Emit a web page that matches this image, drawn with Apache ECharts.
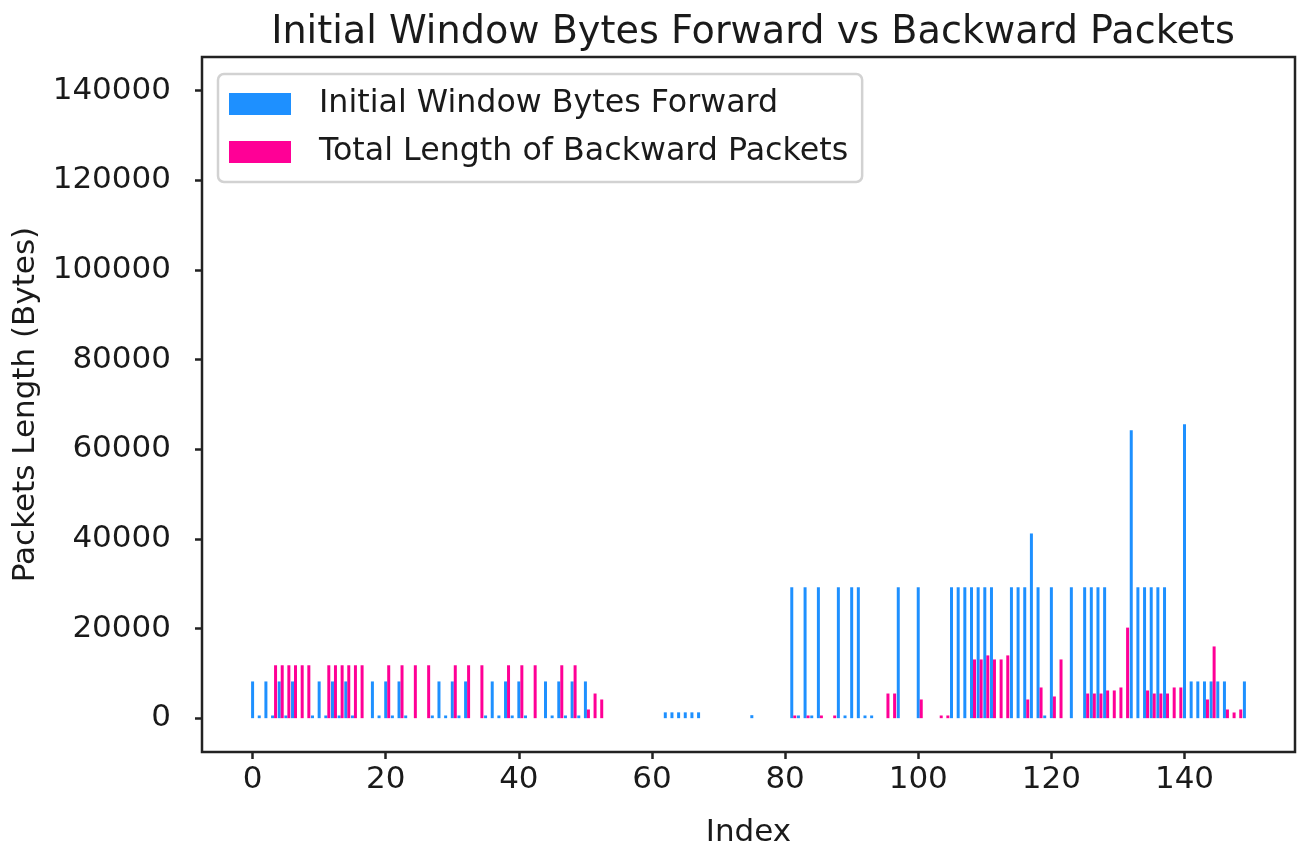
<!DOCTYPE html>
<html>
<head>
<meta charset="utf-8">
<script src="https://cdn.jsdelivr.net/npm/echarts@6/dist/echarts.min.js"></script>
<style>
  html, body { margin: 0; padding: 0; background: #fff; }
  #chart { width: 1299px; height: 850px; }
</style>
</head>
<body>
<div id="chart"></div>
<script>
// sample index 0..149
const indices = Array.from({ length: 150 }, (_, i) => i)

// Initial Window Bytes Forward
const initWinFwd = [
  8192, 600, 8192, 600, 8192, 600, 8192, 0, 0, 600,
  8192, 600, 8192, 600, 8192, 600, 0, 0, 8192, 600,
  8192, 600, 8192, 600, 0, 0, 0, 600, 8192, 600,
  8192, 600, 8192, 0, 0, 600, 8192, 600, 8192, 600,
  8192, 600, 0, 0, 8192, 600, 8192, 600, 8192, 600,
  8192, 0, 0, 0, 0, 0, 0, 0, 0, 0,
  0, 0, 1300, 1300, 1300, 1300, 1300, 1300, 0, 0,
  0, 0, 0, 0, 0, 670, 0, 0, 0, 0,
  0, 29200, 600, 29200, 600, 29200, 0, 0, 29200, 600,
  29200, 29200, 600, 600, 0, 0, 0, 29200, 0, 0,
  29200, 0, 0, 0, 0, 29200, 29200, 29200, 29200, 29200,
  29200, 29200, 0, 0, 29200, 29200, 29200, 41200, 29200, 600,
  29200, 0, 0, 29200, 0, 29200, 29200, 29200, 29200, 0,
  0, 0, 64240, 29200, 29200, 29200, 29200, 29200, 0, 0,
  65535, 8192, 8192, 8192, 8192, 8192, 8192, 0, 0, 8192
]

// Total Length of Backward Packets
const totLenBwd = [
  0, 0, 0, 11800, 11800, 11800, 11800, 11800, 11800, 0,
  0, 11800, 11800, 11800, 11800, 11800, 11800, 0, 0, 0,
  11800, 0, 11800, 0, 11800, 0, 11800, 0, 0, 0,
  11800, 0, 11800, 0, 11800, 0, 0, 0, 11800, 0,
  11800, 0, 11800, 0, 0, 0, 11800, 0, 11800, 0,
  1940, 5500, 4170, 0, 0, 0, 0, 0, 0, 0,
  0, 0, 0, 0, 0, 0, 0, 0, 0, 0,
  0, 0, 0, 0, 0, 0, 0, 0, 0, 0,
  0, 600, 0, 600, 0, 600, 0, 600, 0, 0,
  0, 0, 0, 0, 0, 5500, 5500, 0, 0, 0,
  4170, 0, 0, 600, 600, 0, 0, 0, 13100, 13100,
  14000, 13100, 13100, 14000, 0, 0, 4170, 0, 6850, 0,
  4840, 13100, 0, 0, 0, 5500, 5500, 5500, 6180, 6180,
  6850, 20200, 0, 0, 6180, 5500, 5500, 5500, 6850, 6850,
  0, 0, 0, 4170, 16000, 0, 1940, 1270, 1940, 0
]

const xTicks = [0, 20, 40, 60, 80, 100, 120, 140]
const yTicks = [0, 20000, 40000, 60000, 80000, 100000, 120000, 140000]

const barShift = 0.45   // second bar set sits next to the first one
const font = 'DejaVu Sans'
const ink = '#1a1a1a'

let myChart = echarts.init(document.getElementById('chart'))

let option = {
  animation: false,
  textStyle: { fontFamily: font },
  title: {
    text: 'Initial Window Bytes Forward vs Backward Packets',
    left: 748,
    top: 9,
    textAlign: 'center',
    textStyle: { fontFamily: font, fontSize: 38.2, fontWeight: 'normal', color: ink }
  },
  legend: {
    orient: 'vertical',
    left: 218,
    top: 74,
    data: ['Initial Window Bytes Forward', 'Total Length of Backward Packets'],
    icon: 'rect',
    itemWidth: 62,
    itemHeight: 22,
    itemGap: 16,
    padding: [14, 14, 14, 11],
    backgroundColor: 'rgba(255,255,255,0.8)',
    borderColor: '#d2d2d2',
    borderWidth: 2.5,
    borderRadius: 6,
    textStyle: { fontFamily: font, fontSize: 31.7, color: ink, lineHeight: 24, padding: [0, 0, 0, 23] }
  },
  grid: {
    left: 202,
    right: 4,
    top: 57,
    bottom: 98,
    show: true,
    borderColor: '#222',
    borderWidth: 2.5,
    outerBoundsMode: 'none'
  },
  xAxis: {
    type: 'value',
    min: -7.6,
    max: 156.6,
    name: 'Index',
    nameLocation: 'middle',
    nameGap: 65,
    nameTextStyle: { fontFamily: font, fontSize: 31, color: ink },
    axisLine: { show: false, onZero: false },
    splitLine: { show: false },
    axisTick: { customValues: xTicks, length: 7, lineStyle: { width: 2.5, color: '#222' } },
    axisLabel: { customValues: xTicks, fontFamily: font, fontSize: 31, color: ink, margin: 12 }
  },
  yAxis: {
    type: 'value',
    min: -7545,
    max: 147477,
    name: 'Packets Length (Bytes)',
    nameLocation: 'middle',
    nameRotate: 90,
    nameGap: 150,
    nameTextStyle: { fontFamily: font, fontSize: 31, color: ink },
    axisLine: { show: false, onZero: false },
    splitLine: { show: false },
    axisTick: { customValues: yTicks, length: 7, lineStyle: { width: 2.5, color: '#222' } },
    axisLabel: {
      customValues: yTicks,
      fontFamily: font,
      fontSize: 31,
      color: ink,
      margin: 31,
      formatter: v => String(v)
    }
  },
  series: [
    {
      name: 'Initial Window Bytes Forward',
      type: 'bar',
      data: indices.map(i => [i, initWinFwd[i]]),
      barWidth: 3,
      barGap: '-100%',
      itemStyle: { color: '#1E90FF' }
    },
    {
      name: 'Total Length of Backward Packets',
      type: 'bar',
      data: indices.map(i => [i + barShift, totLenBwd[i]]),
      barWidth: 3,
      barGap: '-100%',
      itemStyle: { color: '#FF0096' }
    }
  ]
}

myChart.setOption(option)
</script>
</body>
</html>
